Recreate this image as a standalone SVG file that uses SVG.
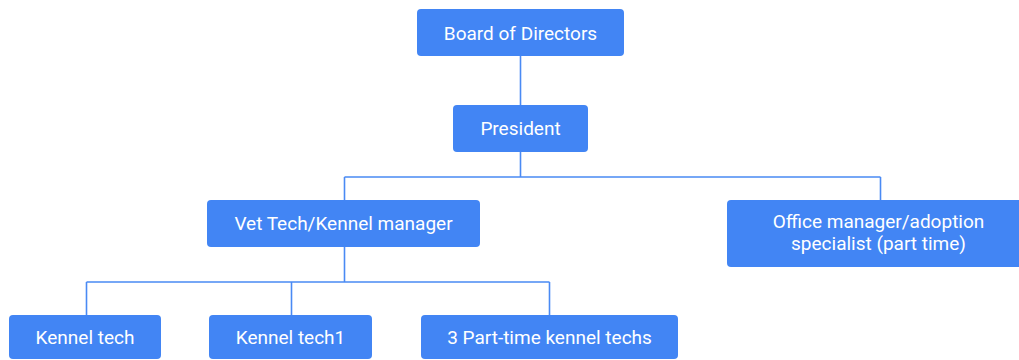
<svg xmlns="http://www.w3.org/2000/svg" width="1019" height="360" viewBox="0 0 1019 360">
<style>
.box{fill:#4285F4;}
.t{font-family:Roboto,"Liberation Sans",sans-serif;font-size:19px;fill:#FFFFFF;text-anchor:middle;}
.ln{fill:none;stroke:#4A8AF4;stroke-width:1.6;}
</style>
<rect width="1019" height="360" fill="#FFFFFF"/>
<g id="connectors">
<path class="ln" d="M520.5 56 V105"/>
<path class="ln" d="M520.5 152 V177 M344.5 177 H880.5 M344.5 177 V200 M880.5 177 V200"/>
<path class="ln" d="M344.5 247 V282 M86.5 282 H549.5 M86.5 282 V315 M291.5 282 V315 M549.5 282 V315"/>
</g>
<g id="board">
<rect class="box" x="417" y="9" width="207" height="47" rx="4"/>
<text class="t" x="520.5" y="39.5">Board of Directors</text>
</g>
<g id="president">
<rect class="box" x="453" y="105" width="135" height="47" rx="4"/>
<text class="t" x="520.5" y="134.5">President</text>
</g>
<g id="vettech">
<rect class="box" x="207" y="200" width="273" height="47" rx="4"/>
<text class="t" x="343.5" y="229.5">Vet Tech/Kennel manager</text>
</g>
<g id="office">
<rect class="box" x="727" y="200" width="310" height="67" rx="4"/>
<text class="t" x="878.5" y="228">Office manager/adoption</text>
<text class="t" x="878.5" y="250">specialist (part time)</text>
</g>
<g id="kennel1">
<rect class="box" x="9" y="315" width="152" height="44" rx="4"/>
<text class="t" x="85" y="344">Kennel tech</text>
</g>
<g id="kennel2">
<rect class="box" x="209" y="315" width="163" height="44" rx="4"/>
<text class="t" x="290.5" y="344">Kennel tech1</text>
</g>
<g id="parttime">
<rect class="box" x="421" y="315" width="257" height="44" rx="4"/>
<text class="t" x="549.5" y="344">3 Part-time kennel techs</text>
</g>
</svg>
